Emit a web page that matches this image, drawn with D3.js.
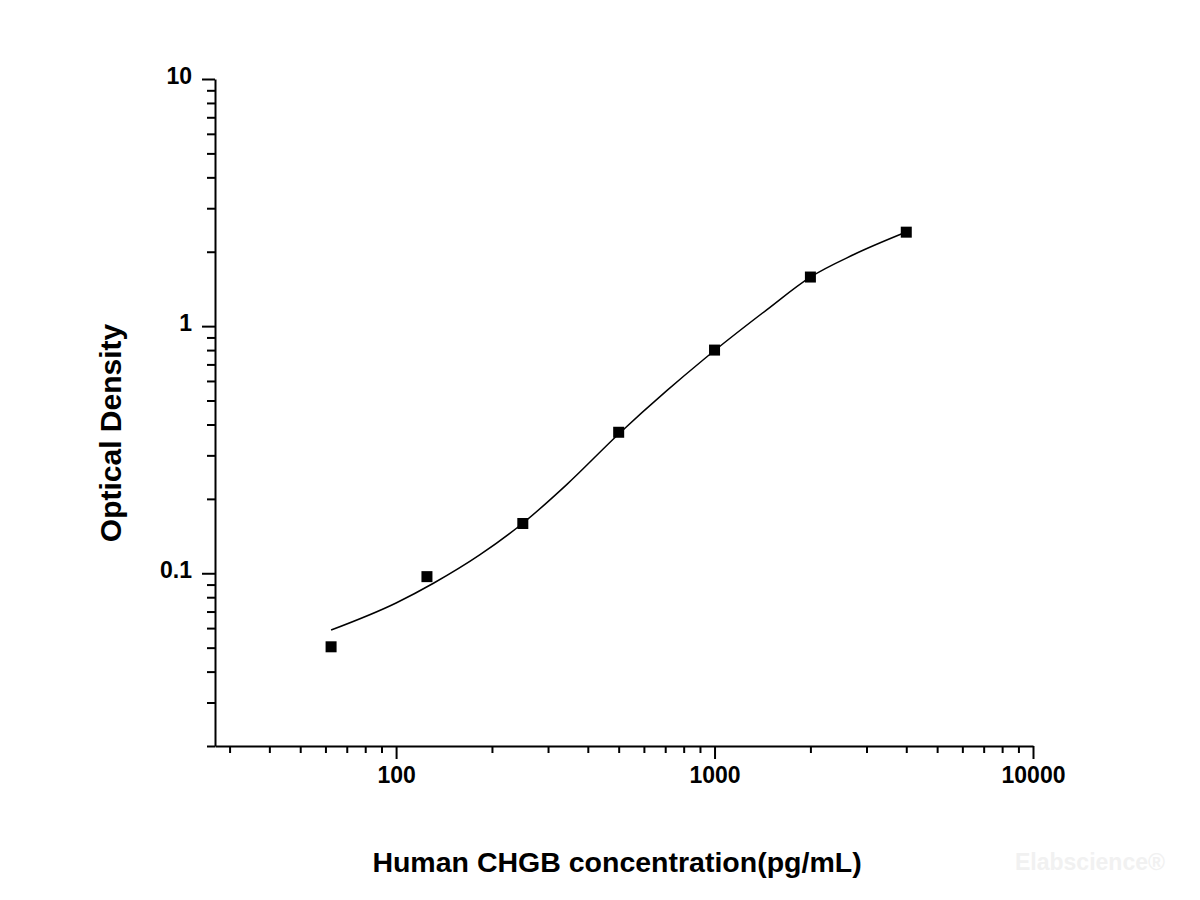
<!DOCTYPE html>
<html>
<head>
<meta charset="utf-8">
<script src="https://cdn.jsdelivr.net/npm/d3@7"></script>
<style>
  body { margin: 0; background: #fff; }
  svg { display: block; font-family: "Liberation Sans", Arial, sans-serif; }
</style>
</head>
<body>
<svg id="chart" width="1200" height="900"></svg>
<script>
// measured standards (pg/mL) and their OD
const conc = [62.5, 125, 250, 500, 1000, 2000, 4000];
const od = [0.0504, 0.0969, 0.159, 0.372, 0.80, 1.58, 2.40];

// fitted curve
const curveConc = [62.5, 100, 131, 183, 250, 344, 500, 708, 922, 1458, 2000, 2728, 4000];
const curveOd = [0.0589, 0.0758, 0.0911, 0.1186, 0.1594, 0.229, 0.366, 0.548, 0.731, 1.164, 1.579, 1.944, 2.403];

const xMajor = [100, 1000, 10000];
const yMajor = [0.1, 1, 10];

const svg = d3.select("#chart");
const margin = { top: 79, right: 167, bottom: 154, left: 215 };
const width = 1200 - margin.left - margin.right;
const height = 900 - margin.top - margin.bottom;

const x = d3.scaleLog().domain([27, 10000]).range([0, width]);
const y = d3.scaleLog().domain([0.02, 10]).range([height, 0]);

const g = svg.append("g")
  .attr("transform", `translate(${margin.left}, ${margin.top})`);

// minor tick values: every integer multiple inside each decade
const xMinor = [];
[10, 100, 1000].forEach(d => { for (let k = 2; k <= 9; k++) if (d * k >= 27) xMinor.push(d * k); });
const yMinor = [];
[0.01, 0.1, 1].forEach(d => { for (let k = 2; k <= 9; k++) yMinor.push(+(d * k).toFixed(3)); });

const styleAxis = (sel) => {
  sel.selectAll(".domain").attr("stroke", "#000").attr("stroke-width", 2);
  sel.selectAll(".tick line").attr("stroke", "#000").attr("stroke-width", 2);
};

// minor ticks
g.append("g")
  .attr("transform", `translate(0, ${height})`)
  .call(d3.axisBottom(x).tickValues(xMinor).tickSize(7).tickFormat(""))
  .call(styleAxis)
  .call(a => a.select(".domain").remove());
g.append("g")
  .call(d3.axisLeft(y).tickValues(yMinor).tickSize(8).tickFormat(""))
  .call(styleAxis)
  .call(a => a.select(".domain").remove());

// major ticks + axis lines
const xAxis = g.append("g")
  .attr("transform", `translate(0, ${height})`)
  .call(d3.axisBottom(x).tickValues(xMajor).tickSize(13).tickSizeOuter(0).tickPadding(8).tickFormat(d3.format("d")))
  .call(styleAxis);
xAxis.selectAll(".tick text")
  .attr("fill", "#000")
  .style("font-size", "23px").style("font-weight", "bold")
  .style("font-family", "Liberation Sans, Arial, sans-serif");

const yAxis = g.append("g")
  .call(d3.axisLeft(y).tickValues(yMajor).tickSize(13).tickSizeOuter(0).tickPadding(10).tickFormat(d => String(d)))
  .call(styleAxis);
yAxis.selectAll(".tick text")
  .attr("fill", "#000")
  .attr("dy", "0.2em")
  .style("font-size", "23px").style("font-weight", "bold")
  .style("font-family", "Liberation Sans, Arial, sans-serif");

// fitted line
const line = d3.line()
  .x((d, i) => x(curveConc[i]))
  .y(d => y(d))
  .curve(d3.curveMonotoneX);

g.append("path")
  .datum(curveOd)
  .attr("fill", "none")
  .attr("stroke", "#000")
  .attr("stroke-width", 1.5)
  .attr("d", line);

// square markers
const s = 11;
g.selectAll("rect.pt")
  .data(od)
  .join("rect")
  .attr("class", "pt")
  .attr("x", (d, i) => x(conc[i]) - s / 2)
  .attr("y", d => y(d) - s / 2)
  .attr("width", s)
  .attr("height", s)
  .attr("fill", "#000");

// axis titles
svg.append("text")
  .attr("x", 617)
  .attr("y", 872)
  .attr("text-anchor", "middle")
  .style("font-size", "28.5px")
  .style("font-weight", "bold")
  .text("Human CHGB concentration(pg/mL)");

svg.append("text")
  .attr("transform", "translate(121, 433) rotate(-90)")
  .attr("text-anchor", "middle")
  .style("font-size", "30px")
  .style("font-weight", "bold")
  .text("Optical Density");

// watermark
svg.append("text")
  .attr("x", 1015)
  .attr("y", 870)
  .style("font-size", "23px")
  .style("font-weight", "bold")
  .attr("fill", "#f1f1f1")
  .text("Elabscience\u00AE");
</script>
</body>
</html>
